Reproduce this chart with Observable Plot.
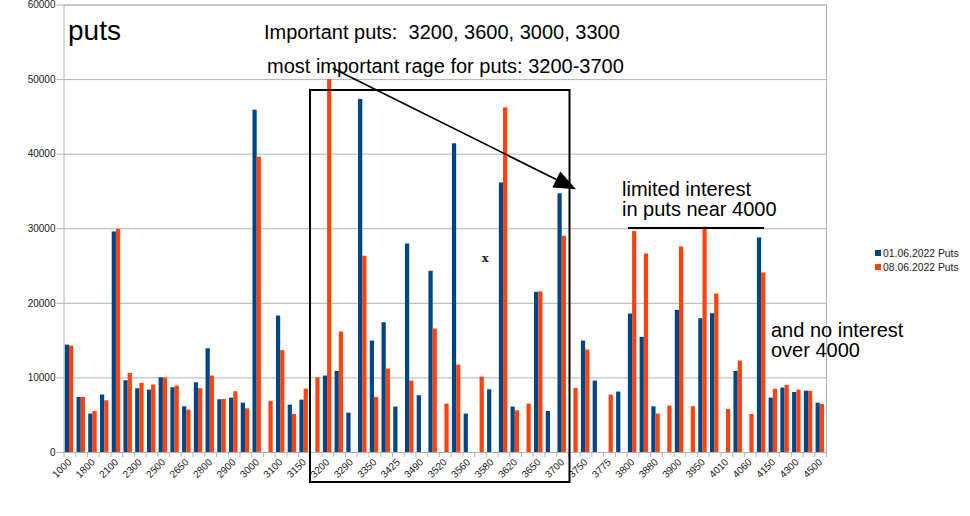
<!DOCTYPE html>
<html>
<head>
<meta charset="utf-8">
<script src="https://cdn.jsdelivr.net/npm/d3@7"></script>
<script src="https://cdn.jsdelivr.net/npm/@observablehq/plot@0.6"></script>
<style>
  html, body { margin: 0; padding: 0; background: #fff; }
  #chart { position: relative; width: 970px; height: 516px; }
  svg { font-family: "Liberation Sans", Arial, sans-serif; }
</style>
</head>
<body>
<div id="chart"></div>
<script>
// strike categories (every other one is labelled on the axis)
const strikes = ["1000","1600","1800","2000","2100","2200","2300","2400","2500","2600",
  "2650","2700","2800","2850","2900","2950","3000","3050","3100","3125",
  "3150","3175","3200","3250","3290","3300","3350","3400","3425","3450",
  "3490","3500","3520","3550","3560","3575","3580","3600","3620","3625",
  "3650","3675","3700","3725","3750","3760","3775","3790","3800","3850",
  "3880","3890","3900","3925","3950","4000","4010","4050","4060","4100",
  "4150","4200","4300","4400","4500"];

const puts0106 = [14400,7380,5150,7700,29570,9620,8550,8370,10020,8680,
  6130,9350,13910,7070,7290,6620,45900,null,18300,6350,
  7020,null,10250,10870,5280,47340,14940,17400,6090,27960,
  7610,24300,null,41390,5150,null,8410,36150,6090,null,
  21480,5500,34680,null,14940,9575,null,8100,18570,15440,
  6130,null,19060,null,17940,18610,null,10870,null,28770,
  7290,8640,8050,8230,6620];

const puts0806 = [14270,7380,5500,6930,29930,10600,9260,9040,9980,8900,
  5680,8550,10250,7110,8140,5860,39600,6850,13650,5100,
  8500,10020,50000,16150,null,26310,7380,11190,null,9575,
  null,16550,6490,11720,null,10110,null,46220,5590,6490,
  21520,null,28990,8590,13740,null,7700,null,29620,26620,
  5150,6220,27560,6130,30200,21250,5770,12260,5100,24070,
  8460,8990,8370,8190,6440];

const seriesNames = ["01.06.2022 Puts", "08.06.2022 Puts"];
const seriesColors = ["#004586", "#ff420e"];
const yTicks = [0,10000,20000,30000,40000,50000,60000];

const rows = [];
strikes.forEach((s, i) => {
  if (puts0106[i] != null) rows.push({i, s, v: puts0106[i], k: 0});
  if (puts0806[i] != null) rows.push({i, s, v: puts0806[i], k: 1});
});

const W = 970, H = 516;
const grid = "#b3b3b3";

const plot = Plot.plot({
  width: W, height: H,
  marginLeft: 63.5, marginRight: 144, marginTop: 4.5, marginBottom: 64,
  style: {fontFamily: "Liberation Sans, Arial, sans-serif", background: "#fff"},
  x: {domain: [-0.5, strikes.length - 0.5], label: null},
  y: {domain: [0, 60000], label: null},
  marks: [
    Plot.gridY(yTicks, {stroke: grid, strokeOpacity: 1}),
    Plot.frame({stroke: grid}),
    Plot.axisY({ticks: yTicks, tickSize: 7, tickPadding: 1.5, fontSize: 10, fill: "#222",
      stroke: grid, label: null, tickFormat: d => String(d)}),
    Plot.axisX({ticks: d3.range(-0.5, strikes.length, 1), tickSize: 5, stroke: grid,
      label: null, tickFormat: () => ""}),
    Plot.axisX({ticks: d3.range(0, strikes.length, 2), tickSize: 0, tickRotate: -45,
      tickPadding: 8, fontSize: 10, fill: "#222", label: null, tickFormat: i => strikes[i]}),
    Plot.rectY(rows, {
      x1: d => d.i - 0.5 + (d.k === 0 ? 0.11 : 0.47),
      x2: d => d.i - 0.5 + (d.k === 0 ? 0.47 : 0.83),
      y1: 0, y2: "v",
      fill: d => seriesColors[d.k]
    })
  ]
});

document.getElementById("chart").appendChild(plot);

// annotations and legend (drawn on top, pixel positioned)
const svg = d3.select(plot);
const g = svg.append("g")
  .attr("font-family", "Liberation Sans, Arial, sans-serif")
  .attr("text-anchor", "start")
  .attr("fill", "#000");

g.append("text").attr("x", 68).attr("y", 40).attr("font-size", 28).text("puts");
g.append("text").attr("x", 264).attr("y", 39).attr("font-size", 20)
  .attr("xml:space", "preserve").style("white-space", "pre")
  .text("Important puts:  3200, 3600, 3000, 3300");
g.append("text").attr("x", 267).attr("y", 73).attr("font-size", 20)
  .text("most important rage for puts: 3200-3700");

g.append("rect").attr("x", 310).attr("y", 90).attr("width", 259.5).attr("height", 392)
  .attr("fill", "none").attr("stroke", "#000").attr("stroke-width", 2);

// arrow
const ax0 = 332.7, ay0 = 68.3, ax1 = 576, ay1 = 189.3;
const ang = Math.atan2(ay1 - ay0, ax1 - ax0);
const L = 22, Wd = 9;
const bx = ax1 - L * Math.cos(ang), by = ay1 - L * Math.sin(ang);
g.append("line").attr("x1", ax0).attr("y1", ay0).attr("x2", bx).attr("y2", by)
  .attr("stroke", "#000").attr("stroke-width", 1.6);
g.append("path").attr("d",
  `M${ax1},${ay1}L${bx + Wd * Math.sin(ang)},${by - Wd * Math.cos(ang)}L${bx - Wd * Math.sin(ang)},${by + Wd * Math.cos(ang)}Z`)
  .attr("fill", "#000");

g.append("text").attr("x", 482).attr("y", 262).attr("font-size", 11).attr("font-weight", "bold")
  .attr("font-family", "DejaVu Serif, serif").attr("fill", "#222").text("x");

g.append("text").attr("x", 622).attr("y", 196).attr("font-size", 20).text("limited interest");
g.append("text").attr("x", 622).attr("y", 216).attr("font-size", 20).text("in puts near 4000");
g.append("line").attr("x1", 628).attr("x2", 764).attr("y1", 228).attr("y2", 228)
  .attr("stroke", "#000").attr("stroke-width", 2);

g.append("text").attr("x", 771).attr("y", 337).attr("font-size", 20).text("and no interest");
g.append("text").attr("x", 771).attr("y", 357).attr("font-size", 20).text("over 4000");

// legend
seriesNames.forEach((name, k) => {
  const y = 253 + k * 14;
  g.append("rect").attr("x", 875).attr("y", y - 3).attr("width", 6).attr("height", 6).attr("fill", seriesColors[k]);
  g.append("text").attr("x", 883).attr("y", y + 3.5).attr("font-size", 10.4).attr("fill", "#222").text(name);
});
</script>
</body>
</html>
